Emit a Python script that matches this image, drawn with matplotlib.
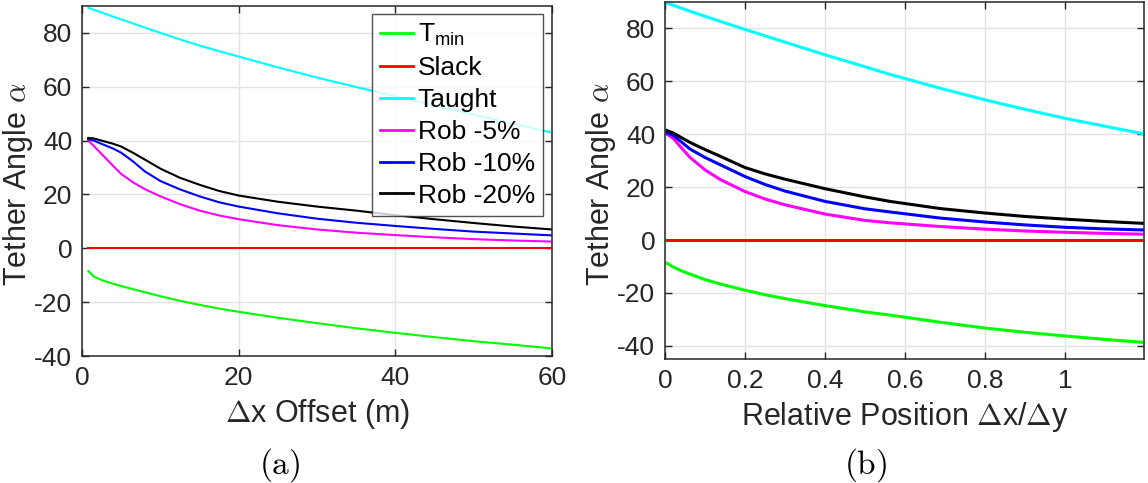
import matplotlib
matplotlib.use("Agg")
import matplotlib.pyplot as plt

plt.rcParams['font.family'] = ['Liberation Sans', 'DejaVu Sans']
plt.rcParams['mathtext.fontset'] = 'cm'
plt.rcParams['axes.unicode_minus'] = False

# ---------------- data ----------------
labels = [r'$\mathregular{T_{min}}$', 'Slack', 'Taught', 'Rob -5%', 'Rob -10%', 'Rob -20%']
colors = ['#00ff00', '#ff0000', '#00ffff', '#ff00ff', '#0000ff', '#000000']

# panel (a): delta-x offset in metres
xa = [0.8, 1.5, 2.5, 4, 5, 6.5, 8, 10, 12.5, 15, 17.5, 20, 25, 30, 35, 40, 45, 50, 55, 60]
a_tmin = [-8.5, -10.5, -11.8, -13.2, -14, -15.2, -16.3, -17.8, -19.5, -21, -22.4, -23.6,
          -25.8, -27.8, -29.7, -31.4, -33, -34.5, -35.8, -37.2]
a_slack = [0] * 20
a_taught = [89.3, 88.6, 87.6, 86, 85, 83.5, 82, 80, 77.6, 75.3, 73.2, 71.2,
            67.2, 63.4, 59.9, 56.5, 53, 49.6, 46.2, 43]
a_rob5 = [40, 38, 35, 30.5, 27.6, 24.5, 22, 19.3, 16.4, 14, 12.2, 10.8,
          8.6, 7, 5.8, 4.9, 4.1, 3.4, 2.9, 2.5]
a_rob10 = [40.5, 40, 38.8, 37, 35.5, 32.3, 28.6, 25, 21.9, 19.3, 17.1, 15.5,
           13, 11, 9.5, 8.3, 7.2, 6.2, 5.5, 4.8]
a_rob20 = [41, 40.8, 40, 38.8, 37.8, 35.5, 33, 29.6, 26.2, 23.6, 21.3, 19.6,
           17.3, 15.5, 14, 12.3, 10.8, 9.4, 8.1, 7]

# panel (b): relative position dx/dy
xb = [0.005, 0.02, 0.04, 0.0625, 0.1, 0.1375, 0.2, 0.25, 0.3, 0.4, 0.5, 0.5625,
      0.6875, 0.8, 0.9, 1.0, 1.1, 1.195]
b_tmin = [-8.8, -10.2, -11.6, -12.9, -15, -16.6, -19, -20.7, -22.2, -24.8, -27.2, -28.4,
          -31.1, -33.3, -34.9, -36.3, -37.6, -38.7]
b_slack = [0] * 18
b_taught = [89.5, 88.8, 87.7, 86.5, 84.6, 82.7, 79.6, 77.2, 74.8, 70, 65.5, 62.6,
            57.4, 53, 49.4, 46, 43, 40.2]
b_rob5 = [40, 38.5, 35, 31.2, 26.5, 22.9, 18.3, 15.5, 13.3, 9.8, 7.4, 6.5,
          5.1, 4.1, 3.4, 2.9, 2.5, 2.2]
b_rob10 = [40.5, 39.6, 37.2, 34.4, 31.2, 28.5, 24, 21, 18.5, 14.6, 11.8, 10.6,
           8.3, 6.8, 5.7, 4.8, 4.2, 3.8]
b_rob20 = [41.4, 40.5, 38.8, 36.9, 34.2, 31.7, 27.4, 25, 23, 19.4, 16.3, 14.6,
           11.9, 10.2, 8.9, 7.9, 7, 6.3]

yticks = [-40, -20, 0, 20, 40, 60, 80]
xa_ticks = [0, 20, 40, 60]
xb_ticks = [0, 0.2, 0.4, 0.6, 0.8, 1]
xb_ticklabels = ['0', '0.2', '0.4', '0.6', '0.8', '1']

# ---------------- figure ----------------
W, H = 1148, 483
fig = plt.figure(figsize=(W / 100, H / 100), dpi=100)

def px_axes(l, t, r, b):
    return fig.add_axes([l / W, 1 - b / H, (r - l) / W, (b - t) / H])

axa = px_axes(82, 6, 552, 356)
axb = px_axes(665, 2, 1144, 359)

edge = '#262626'
tick_fs = 19
label_fs = 22

def style(ax):
    ax.grid(True, color='#e3e3e3', linewidth=1.0)
    ax.set_axisbelow(True)
    for s in ax.spines.values():
        s.set_color(edge)
        s.set_linewidth(1.1)
    ax.tick_params(direction='in', length=5, width=1.0, colors=edge,
                   labelsize=tick_fs, top=True, right=True, pad=7)

series_a = [a_tmin, a_slack, a_taught, a_rob5, a_rob10, a_rob20]
for y, c, lab in zip(series_a, colors, labels):
    axa.plot(xa, y, color=c, linewidth=1.5, label=lab)
axa.set_xlim(0, 60)
axa.set_ylim(-40, 90)
axa.set_xticks(xa_ticks)
axa.set_yticks(yticks)
style(axa)
axa.set_xlabel(r'$\Delta$x Offset (m)', fontsize=label_fs, color=edge, labelpad=5)
axa.set_ylabel(r'Tether Angle $\alpha$', fontsize=label_fs, color=edge)
axa.yaxis.set_label_coords(-47 / 470, 0.49)
leg = axa.legend(loc='upper right', bbox_to_anchor=((543 - 82) / 470, (356 - 14) / 350),
                 fontsize=19, frameon=True, fancybox=False, handlelength=1.25,
                 handletextpad=0.2, labelspacing=0.3, borderpad=0.3,
                 borderaxespad=0)
leg.get_frame().set_edgecolor(edge)
leg.get_frame().set_linewidth(1.0)
for line in leg.get_lines():
    line.set_linewidth(2.0)

series_b = [b_tmin, b_slack, b_taught, b_rob5, b_rob10, b_rob20]
for y, c in zip(series_b, colors):
    axb.plot(xb, y, color=c, linewidth=2.2)
axb.set_xlim(0, 1.1975)
axb.set_ylim(-45, 90)
axb.set_xticks(xb_ticks)
axb.set_xticklabels(xb_ticklabels)
axb.set_yticks(yticks)
style(axb)
axb.set_xlabel(r'Relative Position $\Delta$x/$\Delta$y', fontsize=label_fs, color=edge, labelpad=5)
axb.set_ylabel(r'Tether Angle $\alpha$', fontsize=label_fs, color=edge)
axb.yaxis.set_label_coords(-47 / 479, 0.49)

fig.text(280 / W, 1 - 465 / H, r'$\mathrm{(a)}$', ha='center', va='center', fontsize=24)
fig.text(866 / W, 1 - 465 / H, r'$\mathrm{(b)}$', ha='center', va='center', fontsize=24)

fig.savefig('out.png', dpi=100)
